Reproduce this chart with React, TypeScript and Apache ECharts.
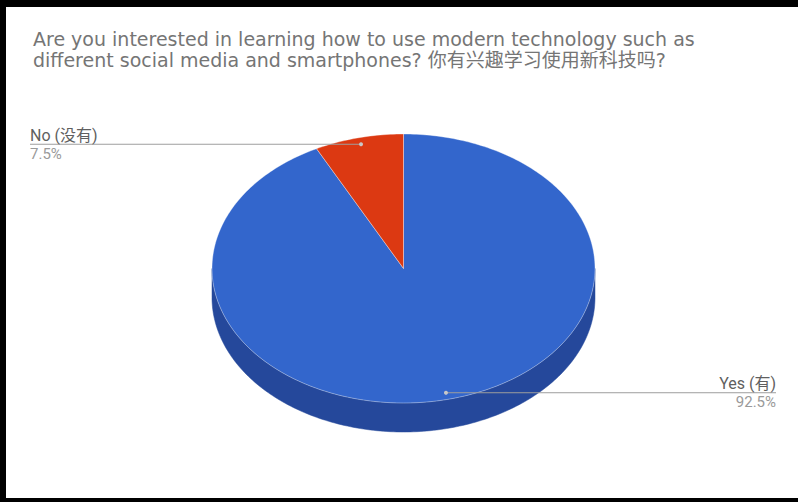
import React, { useEffect, useRef } from "react";
import * as echarts from "echarts";

const titleLines = [
  "Are you interested in learning how to use modern technology such as",
  "different social media and smartphones? 你有兴趣学习使用新科技吗?",
];
const categories = ["Yes (有)", "No (没有)"];
const values = [92.5, 7.5];
const topColors = ["#3366cc", "#dc3912"];
const sideColors = ["#25489b", "#9a280d"];

export default function App() {
  const ref = useRef<HTMLDivElement>(null);
  useEffect(() => {
    if (!ref.current) return;
    const chart = echarts.init(ref.current, undefined, { renderer: "svg" });
    const total = values.reduce((a, b) => a + b, 0);
    const cx = 403.5, cy = 268.5, rx = 191.5, ry = 134.5, depth = 29;
    const pt = (deg: number, f = 1, dy = 0) => {
      const r = (deg * Math.PI) / 180;
      return [cx + rx * f * Math.sin(r), cy - ry * f * Math.cos(r) + dy];
    };
    const arc = (a: number, b: number, dy = 0) => {
      const pts: number[][] = [];
      const n = Math.max(2, Math.ceil(Math.abs(b - a) / 1));
      for (let k = 0; k <= n; k++) pts.push(pt(a + ((b - a) * k) / n, 1, dy));
      return pts;
    };
    const renderItem = (params: any, api: any) => {
      const i = params.dataIndex;
      const v = api.value(0);
      let before = 0;
      for (let k = 0; k < i; k++) before += values[k];
      const start = (before / total) * 360;
      const end = start + (v / total) * 360;
      const children: any[] = [];
      const a = Math.max(start, 90), b = Math.min(end, 270);
      if (a < b) {
        const top = arc(a, b);
        const bot = arc(b, a, depth);
        children.push({
          type: "polygon",
          z2: 1,
          shape: { points: top.concat(bot) },
          style: { fill: sideColors[i], stroke: sideColors[i], lineWidth: 0.5 },
        });
      }
      children.push({
        type: "polygon",
        z2: 5,
        shape: { points: [[cx, cy]].concat(arc(start, end)) },
        style: { fill: topColors[i], stroke: "rgba(255,255,255,0.45)", lineWidth: 0.8 },
      });
      const mid = (start + end) / 2;
      const dot = pt(mid, 0.95);
      const left = Math.sin((mid * Math.PI) / 180) < 0;
      const lx = left ? 30 : 776;
      const ly = dot[1];
      children.push({
        type: "line",
        z2: 8,
        shape: { x1: dot[0], y1: ly, x2: lx, y2: ly },
        style: { stroke: "#9e9e9e", lineWidth: 1 },
      });
      children.push({
        type: "circle",
        z2: 9,
        shape: { cx: dot[0], cy: ly, r: 2 },
        style: { fill: "#c8c8c8" },
      });
      children.push({
        type: "text",
        z2: 10,
        style: {
          x: lx, y: ly - 1, text: categories[i],
          align: left ? "left" : "right", verticalAlign: "bottom",
          fill: "#5f5f5f", fontSize: 16, fontFamily: "Roboto, 'Noto Sans CJK SC'",
        },
      });
      children.push({
        type: "text",
        z2: 10,
        style: {
          x: lx, y: ly + 2, text: v.toFixed(1) + "%",
          align: left ? "left" : "right", verticalAlign: "top",
          fill: "#9a9a9a", fontSize: 15, fontFamily: "Roboto, 'Noto Sans CJK SC'",
        },
      });
      return { type: "group", children };
    };
    chart.setOption({
      animation: false,
      backgroundColor: "#ffffff",
      graphic: [
        { type: "rect", z: -10, shape: { x: 0, y: 0, width: 798, height: 502 }, style: { fill: "#000" } },
        { type: "rect", z: -9, shape: { x: 6, y: 7, width: 792, height: 491 }, style: { fill: "#fff" } },
      ],
      title: {
        text: titleLines.join("\n"),
        left: 33,
        top: 28,
        padding: 0,
        textStyle: {
          color: "#757575",
          fontWeight: "normal",
          fontSize: 19,
          lineHeight: 21,
          fontFamily: "'DejaVu Sans', 'Noto Sans CJK SC'",
        },
      },
      series: [
        {
          type: "custom",
          coordinateSystem: "none",
          renderItem,
          data: values.map((v, i) => ({ name: categories[i], value: [v] })),
        },
      ],
    });
    return () => chart.dispose();
  }, []);
  return (
    <div
      ref={ref}
      style={{ position: "absolute", left: 0, top: 0, width: 798, height: 502 }}
    />
  );
}
